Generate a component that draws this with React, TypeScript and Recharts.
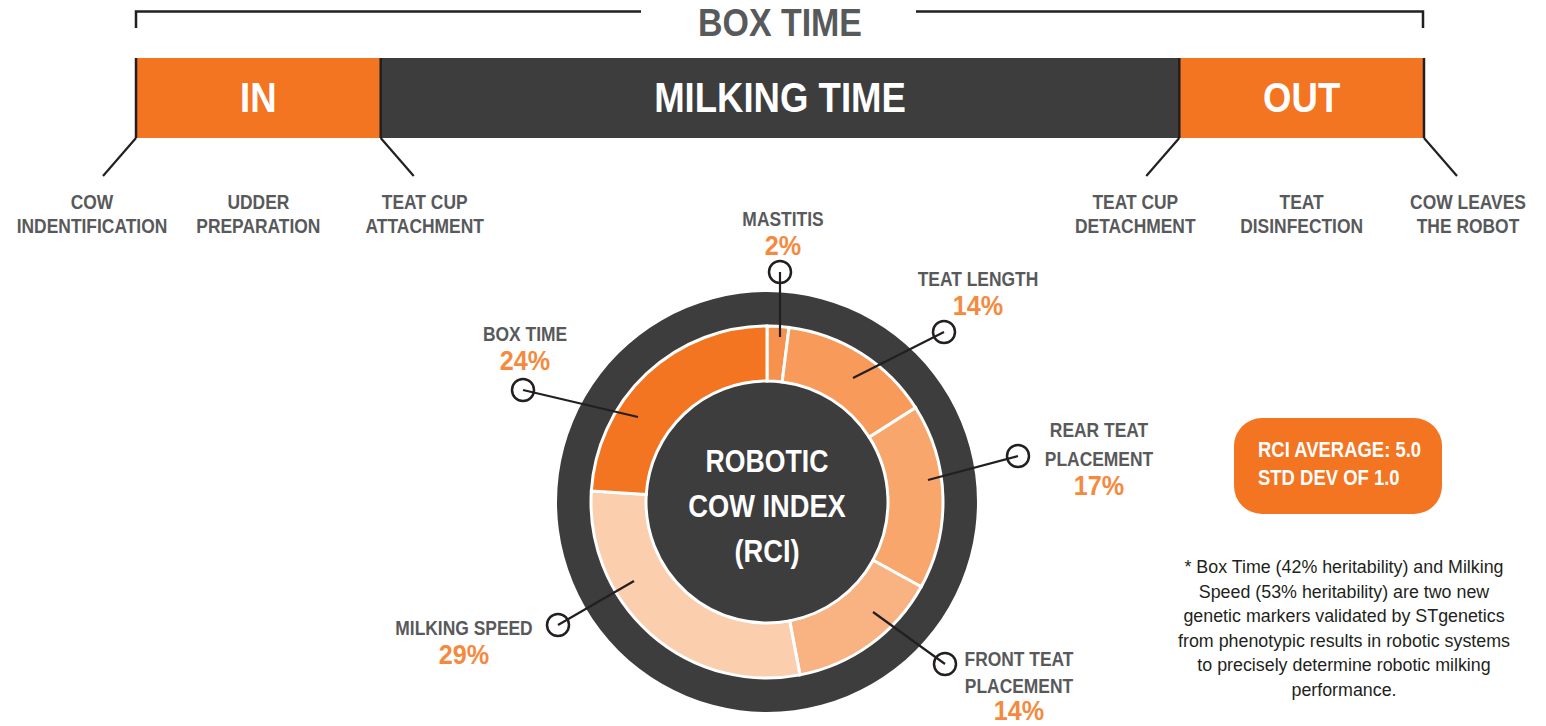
import { BarChart, Bar, XAxis, YAxis, PieChart, Pie, Cell } from 'recharts'

// timeline of one robot visit
const PHASES = ['IN', 'MILKING TIME', 'OUT']
const PHASE_SHARE = [19, 62, 19]
const STEP_LABELS = [
  ['COW', 'INDENTIFICATION'],
  ['UDDER', 'PREPARATION'],
  ['TEAT CUP', 'ATTACHMENT'],
  ['TEAT CUP', 'DETACHMENT'],
  ['TEAT', 'DISINFECTION'],
  ['COW LEAVES', 'THE ROBOT'],
]

// robotic cow index weights
const TRAITS = ['MASTITIS', 'TEAT LENGTH', 'REAR TEAT\nPLACEMENT', 'FRONT TEAT\nPLACEMENT', 'MILKING SPEED', 'BOX TIME']
const WEIGHTS = [2, 14, 17, 14, 29, 24]

const RCI_AVERAGE = '5.0'
const RCI_STD_DEV = '1.0'

const FOOTNOTE = [
  '* Box Time (42% heritability) and Milking',
  'Speed (53% heritability) are two new',
  'genetic markers validated by STgenetics',
  'from phenotypic results in robotic systems',
  'to precisely determine robotic milking',
  'performance.',
]

const ORANGE = '#F37421'
const DARK = '#3D3D3D'
const GREY_TEXT = '#58595B'
const PCT_TEXT = '#F58A3F'
const INK = '#231F20'
const PHASE_COLORS = [ORANGE, DARK, ORANGE]
const TRAIT_COLORS = ['#F6924E', '#F79A5A', '#F8A66C', '#F9B383', '#FBCEAE', ORANGE]

// no condensed face installed, so squeeze Liberation Sans horizontally
const FONT = "'Liberation Sans', Arial, sans-serif"
const NARROW = 0.83

// where step labels hang off the bar: phase index, edge, direction
const STEP_ANCHORS = [
  { phase: 0, at: 'start', dir: -1 },
  { phase: 0, at: 'mid', dir: 0 },
  { phase: 0, at: 'end', dir: 1 },
  { phase: 2, at: 'start', dir: -1 },
  { phase: 2, at: 'mid', dir: 0 },
  { phase: 2, at: 'end', dir: 1 },
]

// callout layout, offsets from the pie centre
const CALLOUTS = [
  { end: [13, -165], dot: [13, -230], tx: 16, ty: -276, gap: 29 },
  { end: [86, -124], dot: [177, -170], tx: 211, ty: -216, gap: 29 },
  { end: [161, -22], dot: [251, -46], tx: 332, ty: -65, gap: 29 },
  { end: [106, 110], dot: [178, 162], tx: 252, ty: 164, gap: 27 },
  { end: [-133, 79], dot: [-209, 123], tx: -303, ty: 133, gap: 29 },
  { end: [-129, -85], dot: [-244, -112], tx: -242, ty: -161, gap: 29 },
]

const CX = 767
const CY = 502

const phaseRow = PHASES.reduce((row: any, p, i) => {
  row[p] = PHASE_SHARE[i]
  return row
}, { row: 'box' })

const traitData = TRAITS.map((name, i) => ({ name, value: WEIGHTS[i] }))

const Narrow = ({ x, y, sx = NARROW, children, ...rest }: any) => (
  <text transform={`translate(${x},${y}) scale(${sx},1)`} fontFamily={FONT} {...rest}>
    {children}
  </text>
)

const makePhaseShape = (i: number) => (props: any) => {
  const { x, y, width, height } = props
  const bottom = y + height
  const anchors = STEP_ANCHORS.map((a, k) => ({ ...a, k })).filter((a) => a.phase === i)
  return (
    <g>
      <rect x={x} y={y} width={width} height={height} fill={PHASE_COLORS[i]} />
      <line x1={x} y1={y} x2={x} y2={bottom} stroke={INK} strokeWidth={2.5} />
      {i === PHASES.length - 1 && (
        <line x1={x + width} y1={y} x2={x + width} y2={bottom} stroke={INK} strokeWidth={2.5} />
      )}
      <Narrow x={x + width / 2} y={y + 54} sx={0.85} textAnchor="middle" fill="#fff" fontWeight="bold" fontSize={43}>
        {PHASES[i]}
      </Narrow>
      {anchors.map((a) => {
        const ex = a.at === 'start' ? x : a.at === 'end' ? x + width : x + width / 2
        const lx = ex + a.dir * 44
        return (
          <g key={a.k}>
            {a.dir !== 0 && (
              <line x1={ex} y1={bottom} x2={ex + a.dir * 33} y2={bottom + 38} stroke={INK} strokeWidth={2.2} />
            )}
            {STEP_LABELS[a.k].map((t, j) => (
              <Narrow
                key={j}
                x={lx}
                y={bottom + 71 + j * 24}
                textAnchor="middle"
                fill={GREY_TEXT}
                fontWeight="bold"
                fontSize={21}
              >
                {t}
              </Narrow>
            ))}
          </g>
        )
      })}
    </g>
  )
}

const renderTraitLabel = (props: any) => {
  const { cx, cy, index, value } = props
  const c = CALLOUTS[index]
  const lines = TRAITS[index].split('\n')
  return (
    <g key={`callout-${index}`}>
      <line
        x1={cx + c.end[0]}
        y1={cy + c.end[1]}
        x2={cx + c.dot[0]}
        y2={cy + c.dot[1]}
        stroke={INK}
        strokeWidth={2.2}
      />
      <circle cx={cx + c.dot[0]} cy={cy + c.dot[1]} r={11} fill="none" stroke={INK} strokeWidth={2.5} />
      {lines.map((t, j) => (
        <Narrow
          key={j}
          x={cx + c.tx}
          y={cy + c.ty + j * c.gap}
          textAnchor="middle"
          fill={GREY_TEXT}
          fontWeight="bold"
          fontSize={21}
        >
          {t}
        </Narrow>
      ))}
      <Narrow
        x={cx + c.tx}
        y={Math.min(cy + c.ty + lines.length * c.gap, 720)}
        sx={0.9}
        textAnchor="middle"
        fill={PCT_TEXT}
        fontWeight="bold"
        fontSize={28}
      >
        {`${value}%`}
      </Narrow>
    </g>
  )
}

export default function App() {
  return (
    <div style={{ position: 'absolute', left: 0, top: 0, width: 1546, height: 726, background: '#fff' }}>
      <div style={{ position: 'absolute', left: 0, top: 0 }}>
        <PieChart width={1546} height={726} margin={{ top: 0, right: 0, bottom: 0, left: 0 }}>
          <Pie
            data={[{ name: 'ring', value: 1 }]}
            dataKey="value"
            cx={CX}
            cy={CY}
            innerRadius={0}
            outerRadius={210}
            fill={DARK}
            stroke="none"
            isAnimationActive={false}
          />
          <Pie
            data={traitData}
            dataKey="value"
            cx={CX}
            cy={CY}
            innerRadius={121}
            outerRadius={176}
            startAngle={90}
            endAngle={-270}
            stroke="#fff"
            strokeWidth={3}
            label={renderTraitLabel}
            labelLine={false}
            isAnimationActive={false}
          >
            {traitData.map((d, i) => (
              <Cell key={d.name} fill={TRAIT_COLORS[i]} />
            ))}
          </Pie>
        </PieChart>
      </div>
      <div style={{ position: 'absolute', left: 0, top: 0 }}>
        <BarChart
          width={1546}
          height={250}
          data={[phaseRow]}
          layout="vertical"
          barCategoryGap={0}
          margin={{ top: 58, right: 122, bottom: 112, left: 136 }}
        >
          <XAxis type="number" domain={[0, 100]} hide />
          <YAxis type="category" dataKey="row" hide />
          {PHASES.map((p, i) => (
            <Bar key={p} dataKey={p} stackId="visit" isAnimationActive={false} shape={makePhaseShape(i)} />
          ))}
        </BarChart>
      </div>
      <svg
        width={1546}
        height={726}
        style={{ position: 'absolute', left: 0, top: 0, pointerEvents: 'none' }}
      >
        <path d="M136,28 V11.5 H641 M916,11.5 H1423 V28" fill="none" stroke={INK} strokeWidth={2.5} />
        <Narrow x={780} y={36} sx={0.87} textAnchor="middle" fill={GREY_TEXT} fontWeight="bold" fontSize={39}>
          BOX TIME
        </Narrow>

        <Narrow x={CX} y={472} sx={0.86} textAnchor="middle" fill="#fff" fontWeight="bold" fontSize={31}>
          ROBOTIC
        </Narrow>
        <Narrow x={CX} y={517} sx={0.88} textAnchor="middle" fill="#fff" fontWeight="bold" fontSize={31}>
          COW INDEX
        </Narrow>
        <Narrow x={CX} y={562} sx={0.88} textAnchor="middle" fill="#fff" fontWeight="bold" fontSize={31}>
          (RCI)
        </Narrow>

        <rect x={1234} y={418} width={208} height={96} rx={28} fill={ORANGE} />
        <Narrow x={1258} y={457} sx={0.84} fill="#fff" fontWeight="bold" fontSize={22}>
          {`RCI AVERAGE: ${RCI_AVERAGE}`}
        </Narrow>
        <Narrow x={1258} y={485} sx={0.84} fill="#fff" fontWeight="bold" fontSize={22}>
          {`STD DEV OF ${RCI_STD_DEV}`}
        </Narrow>

        {FOOTNOTE.map((t, i) => (
          <Narrow key={i} x={1344} y={573 + i * 24.6} sx={0.965} textAnchor="middle" fill={INK} fontSize={18.5}>
            {t}
          </Narrow>
        ))}
      </svg>
    </div>
  )
}
